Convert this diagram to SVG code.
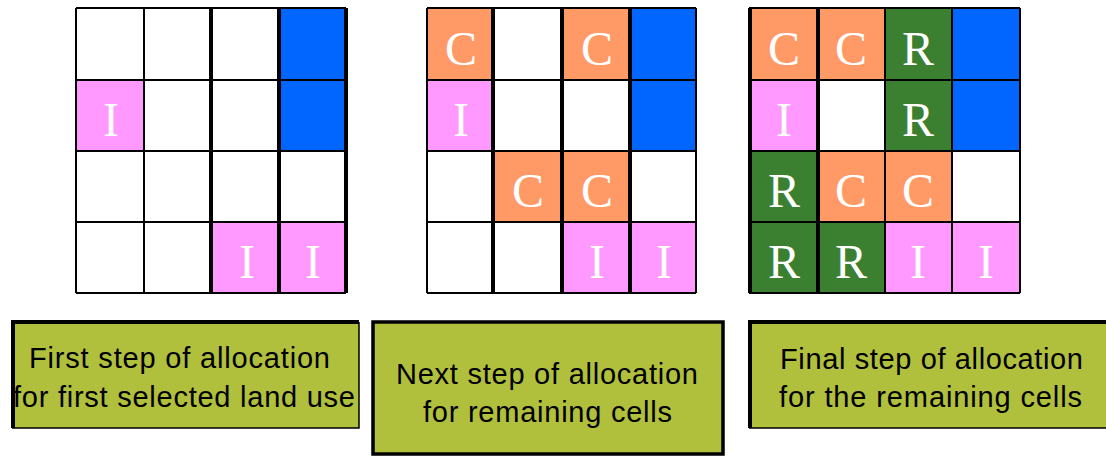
<svg xmlns="http://www.w3.org/2000/svg" width="1106" height="457" viewBox="0 0 1106 457">
<style>
.w{fill:#ffffff}
.c{fill:#FF9966}
.i{fill:#FF99FF}
.b{fill:#0066FF}
.r{fill:#3B7F30}
.ln{stroke:#000;stroke-width:2;fill:none}
.tk{stroke:#000;stroke-width:4;fill:none}
.lt{font-family:"Liberation Serif","Times New Roman",serif;font-size:48px;fill:#fff;text-anchor:middle}
.box{fill:#B0BF3C}
.bt{font-family:"Liberation Sans",Arial,sans-serif;font-size:29px;fill:#000}
</style>
<rect width="1106" height="457" fill="#fff"/>

<g id="grid1">
  <rect class="w" x="76" y="8" width="270" height="285"/>
  <rect class="b" x="279" y="8" width="67" height="143"/>
  <rect class="i" x="76" y="80" width="68" height="71"/>
  <rect class="i" x="211" y="222" width="135" height="71"/>
  <text class="lt" x="111" y="136">I</text>
  <text class="lt" x="247" y="278">I</text>
  <text class="lt" x="313" y="278">I</text>
  <path class="ln" d="M76 8H346M76 80H346M76 151H346M76 222H346M76 293H346M76 8V293M144 8V293"/>
  <path class="tk" d="M211 8V293M279 8V293M346 8V293"/>
</g>

<g id="grid2">
  <rect class="w" x="427" y="8" width="269" height="285"/>
  <rect class="c" x="427" y="8" width="66" height="72"/>
  <rect class="c" x="562" y="8" width="68" height="72"/>
  <rect class="b" x="630" y="8" width="66" height="143"/>
  <rect class="i" x="427" y="80" width="66" height="71"/>
  <rect class="c" x="493" y="151" width="137" height="71"/>
  <rect class="i" x="562" y="222" width="134" height="71"/>
  <text class="lt" x="461" y="65">C</text>
  <text class="lt" x="597" y="65">C</text>
  <text class="lt" x="461" y="136">I</text>
  <text class="lt" x="528" y="207">C</text>
  <text class="lt" x="597" y="207">C</text>
  <text class="lt" x="597" y="278">I</text>
  <text class="lt" x="664" y="278">I</text>
  <path class="ln" d="M427 8H696M427 80H696M427 151H696M427 222H696M427 293H696M427 8V293M696 8V293"/>
  <path class="tk" d="M493 8V293M562 8V293M630 8V293"/>
</g>

<g id="grid3">
  <rect class="c" x="749" y="8" width="136" height="72"/>
  <rect class="r" x="885" y="8" width="67" height="143"/>
  <rect class="b" x="952" y="8" width="68" height="143"/>
  <rect class="i" x="749" y="80" width="69" height="71"/>
  <rect class="w" x="818" y="80" width="67" height="71"/>
  <rect class="r" x="749" y="151" width="69" height="71"/>
  <rect class="c" x="818" y="151" width="134" height="71"/>
  <rect class="w" x="952" y="151" width="68" height="71"/>
  <rect class="r" x="749" y="222" width="136" height="71"/>
  <rect class="i" x="885" y="222" width="135" height="71"/>
  <text class="lt" x="784" y="65">C</text>
  <text class="lt" x="851" y="65">C</text>
  <text class="lt" x="918" y="65">R</text>
  <text class="lt" x="784" y="136">I</text>
  <text class="lt" x="918" y="136">R</text>
  <text class="lt" x="784" y="207">R</text>
  <text class="lt" x="851" y="207">C</text>
  <text class="lt" x="918" y="207">C</text>
  <text class="lt" x="784" y="278">R</text>
  <text class="lt" x="851" y="278">R</text>
  <text class="lt" x="918" y="278">I</text>
  <text class="lt" x="986" y="278">I</text>
  <path class="ln" d="M749 8H1020M749 80H1020M749 151H1020M749 222H1020M749 293H1020M885 8V293M952 8V293M1020 8V293"/>
  <path class="tk" d="M750 8V293M818 8V293"/>
</g>

<g id="box1">
  <rect class="box" x="12" y="322" width="347" height="106"/>
  <path d="M359 322V428H12" stroke="#000" stroke-width="1.5" fill="none"/>
  <path d="M13 428V322H359" stroke="#000" stroke-width="4" fill="none"/>
  <text class="bt" x="29" y="368" textLength="301" lengthAdjust="spacing">First step of allocation</text>
  <text class="bt" x="13" y="407" textLength="342" lengthAdjust="spacing">for first selected land use</text>
</g>

<g id="box2">
  <rect class="box" x="373" y="322" width="350" height="132" stroke="#000" stroke-width="3.5"/>
  <text class="bt" x="396" y="384" textLength="302" lengthAdjust="spacing">Next step of allocation</text>
  <text class="bt" x="423" y="422" textLength="249" lengthAdjust="spacing">for remaining cells</text>
</g>

<g id="box3">
  <rect class="box" x="749" y="322" width="360" height="106"/>
  <path d="M749 428H1110" stroke="#000" stroke-width="1.5" fill="none"/>
  <path d="M750 428V322H1110" stroke="#000" stroke-width="4" fill="none"/>
  <text class="bt" x="780" y="369" textLength="303" lengthAdjust="spacing">Final step of allocation</text>
  <text class="bt" x="779" y="407" textLength="303" lengthAdjust="spacing">for the remaining cells</text>
</g>

<g id="connectors"></g>
</svg>
